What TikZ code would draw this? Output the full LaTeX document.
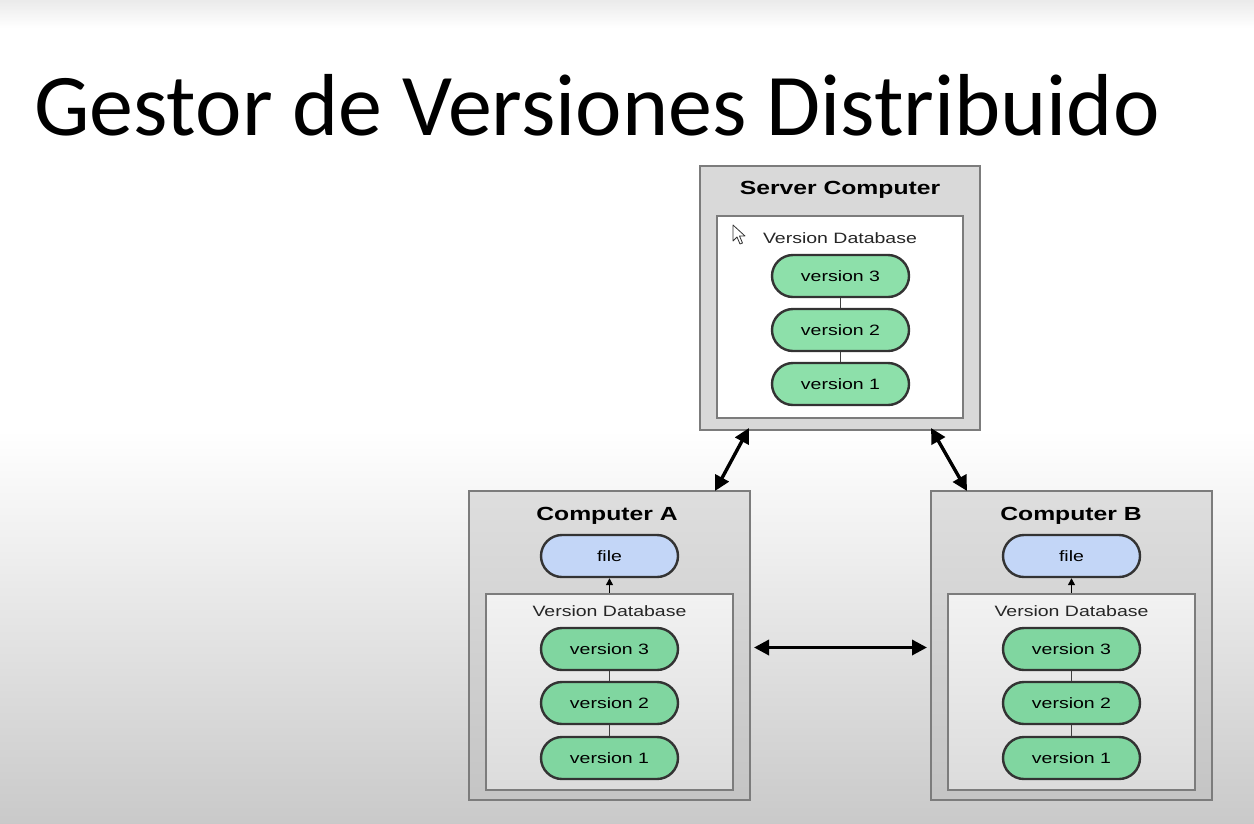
\documentclass[tikz,border=0pt]{standalone}
\usepackage{fontspec}
\usetikzlibrary{arrows.meta,calc,shapes.misc}
\newfontfamily\titlefont{Carlito}
\newfontfamily\diagfont[FakeStretch=1.3]{Liberation Sans}
\definecolor{bordergray}{HTML}{7C7C7C}
\definecolor{pillgreen}{HTML}{8DE0AA}
\definecolor{pillgreenB}{HTML}{80D6A0}
\definecolor{pillblue}{HTML}{C3D6F7}
\definecolor{pilledge}{HTML}{333333}
\tikzset{
  outerbox/.style={draw=bordergray, line width=2pt, inner sep=0pt, rectangle},
  innerbox/.style={draw=bordergray, line width=1.6pt, inner sep=0pt, rectangle},
  pill/.style={rounded rectangle, draw=pilledge, line width=2.4pt, minimum width=137pt, minimum height=42pt, inner sep=0pt, font=\diagfont\fontsize{15}{15}\selectfont},
  verpill/.style={pill, fill=pillgreenB},
  boxtitle/.style={font=\diagfont\bfseries\fontsize{19}{19}\selectfont, inner sep=0pt},
  dblabel/.style={font=\diagfont\fontsize{15}{15}\selectfont, inner sep=0pt, text=black!85},
  link/.style={draw=black!75, line width=1.6pt},
  bigarrow/.style={line width=3.4pt, {Triangle[length=15pt,width=15pt]}-{Triangle[length=15pt,width=15pt]}},
  smallarrow/.style={line width=1.4pt, -{Triangle[length=7pt,width=7pt]}}
}
\begin{document}
\begin{tikzpicture}[x=1pt,y=-1pt]
\useasboundingbox (0,0) rectangle (1254,823);
% background
\fill[white] (0,0) rectangle (1254,823);
\shade[top color=black!8, bottom color=white] (0,0) rectangle (1254,28);
\shade[top color=white, bottom color=black!21] (0,430) rectangle (1254,823);

% title
\node[anchor=base west, inner sep=0pt, font=\titlefont\fontsize{88}{88}\selectfont] (title) at (34,135) {Gestor de Versiones Distribuido};

% Server
\node[outerbox, fill=black!15, minimum width=280pt, minimum height=264pt] (srv) at (840,298) {};
\node[innerbox, fill=white, minimum width=246pt, minimum height=202pt] (srvin) at (840,317) {};
\node[boxtitle] (srvtitle) at (840,190) {Server Computer};
\node[dblabel] (srvdb) at (840,238) {Version Database};
\node[pill, fill=pillgreen] (s3) at (840.5,276) {version 3};
\node[pill, fill=pillgreen] (s2) at (840.5,330) {version 2};
\node[pill, fill=pillgreen] (s1) at (840.5,384) {version 1};
\draw[link] (s3.south) -- (s2.north);
\draw[link] (s2.south) -- (s1.north);

% cursor
\draw[fill=white, draw=black!80, line width=0.8pt, line join=round]
  (733,225) -- (733,241) -- (737,237) -- (740,244) -- (742.5,243) -- (739.5,236) -- (745,236) -- cycle;

% Computer A
\node[outerbox, top color=black!13, bottom color=black!23, minimum width=281pt, minimum height=309pt] (ca) at (609.5,645.5) {};
\node[innerbox, top color=black!5, bottom color=black!14, minimum width=247pt, minimum height=196pt] (cain) at (609.5,692) {};
\node[boxtitle] (catitle) at (607,516) {Computer A};
\node[pill, fill=pillblue] (afile) at (609.5,556) {file};
\node[dblabel] (adb) at (609.5,611) {Version Database};
\node[verpill] (a3) at (609.5,649) {version 3};
\node[verpill] (a2) at (609.5,703) {version 2};
\node[verpill] (a1) at (609.5,758) {version 1};
\draw[link] (a3.south) -- (a2.north);
\draw[link] (a2.south) -- (a1.north);
\draw[smallarrow] (cain.north -| afile.south) -- (afile.south);

% Computer B
\node[outerbox, top color=black!13, bottom color=black!23, minimum width=281pt, minimum height=309pt] (cb) at (1071.5,645.5) {};
\node[innerbox, top color=black!5, bottom color=black!14, minimum width=247pt, minimum height=196pt] (cbin) at (1071.5,692) {};
\node[boxtitle] (cbtitle) at (1071,516) {Computer B};
\node[pill, fill=pillblue] (bfile) at (1071.5,556) {file};
\node[dblabel] (bdb) at (1071.5,611) {Version Database};
\node[verpill] (b3) at (1071.5,649) {version 3};
\node[verpill] (b2) at (1071.5,703) {version 2};
\node[verpill] (b1) at (1071.5,758) {version 1};
\draw[link] (b3.south) -- (b2.north);
\draw[link] (b2.south) -- (b1.north);
\draw[smallarrow] (cbin.north -| bfile.south) -- (bfile.south);

% connectors
\draw[bigarrow] ($(srv.south west)+(50,-3)$) -- ($(ca.north east)+(-36,1)$);
\draw[bigarrow] ($(srv.south east)+(-50,-3)$) -- ($(cb.north west)+(37,1)$);
\draw[bigarrow] ($(ca.east)+(3,2)$) -- ($(cb.west)+(-3,2)$);
\end{tikzpicture}
\end{document}
